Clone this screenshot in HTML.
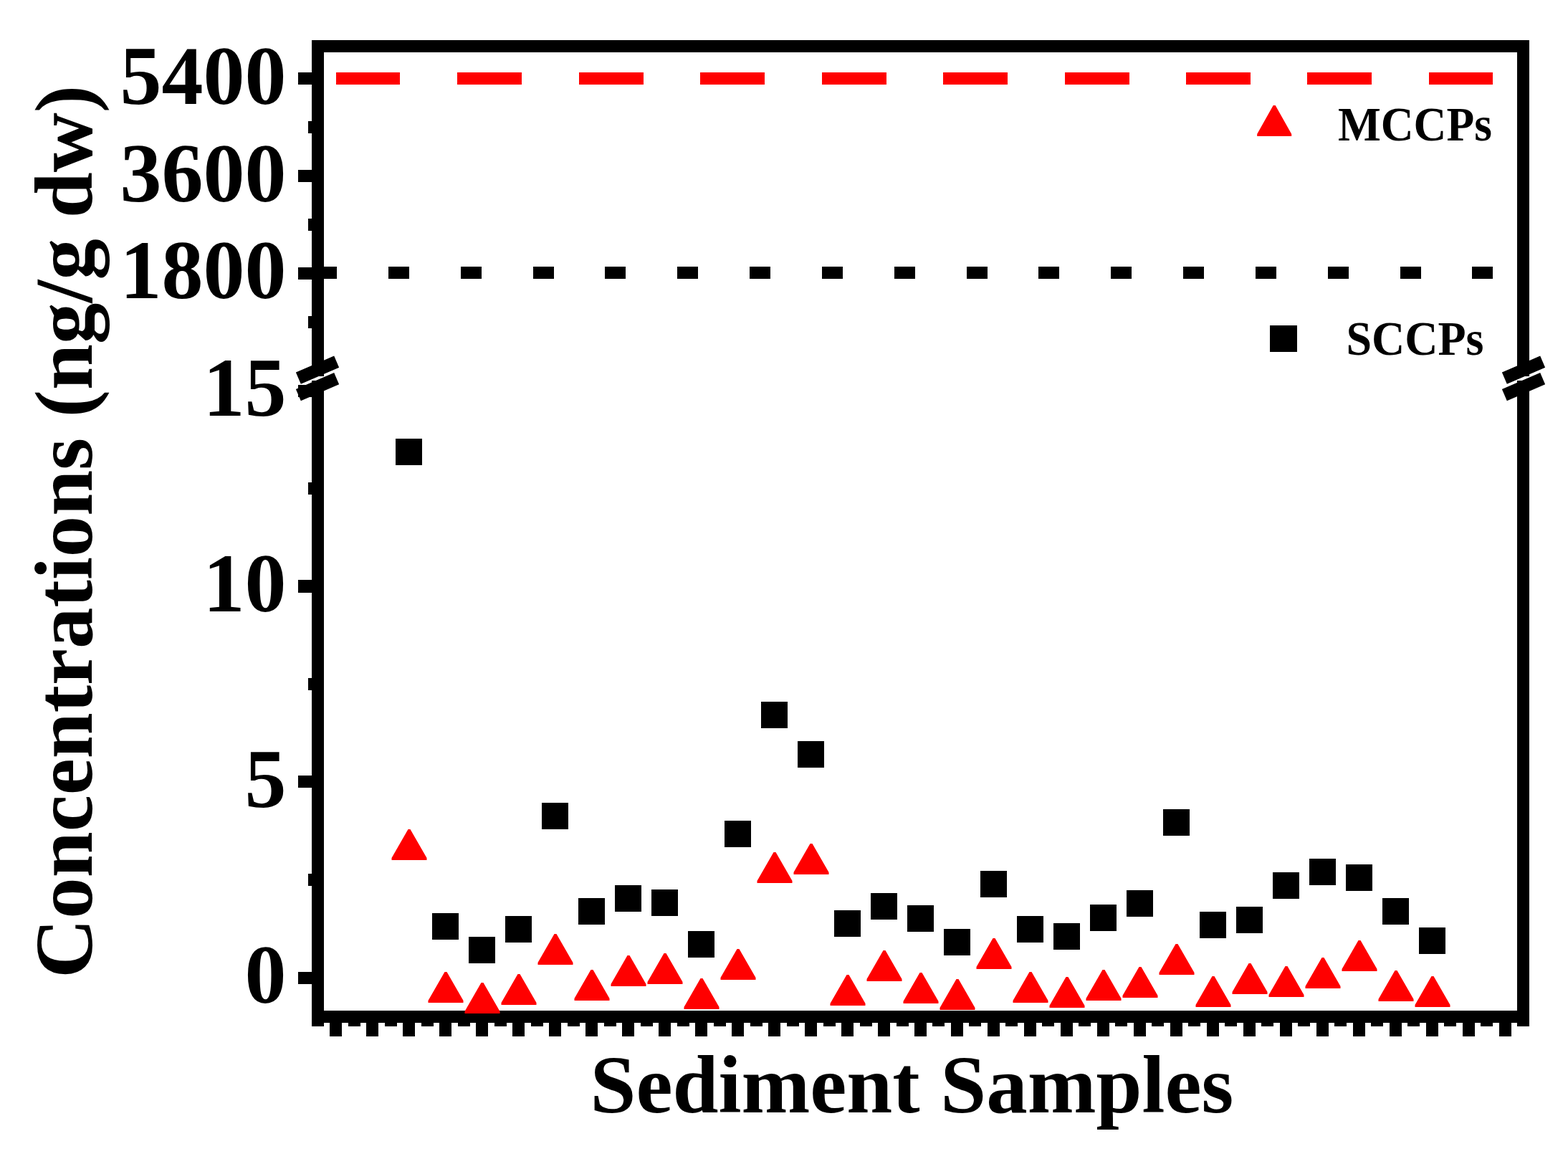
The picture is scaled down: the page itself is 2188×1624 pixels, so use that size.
<!DOCTYPE html>
<html lang="en"><head><meta charset="utf-8"><title>Sediment Samples: SCCPs and MCCPs concentrations</title>
<style>
html,body{margin:0;padding:0;background:#fff;}
body{width:2188px;height:1624px;overflow:hidden;}
svg{display:block;}
text{font-family:"Liberation Serif",serif;font-weight:bold;fill:#000;}
.tk{font-size:116px;text-anchor:end;}
.ti{font-size:115px;}
.lg{font-size:63.4px;}
</style></head><body>
<svg width="2188" height="1624" viewBox="0 0 2188 1624">
<rect x="0" y="0" width="2188" height="1624" fill="#fff"/>
<g fill="#000" shape-rendering="crispEdges">
<rect x="435" y="56" width="1699" height="17"/>
<rect x="435" y="1410" width="1699" height="17"/>
<rect x="435" y="56" width="17" height="469"/>
<rect x="435" y="531" width="17" height="901"/>
<rect x="2117" y="56" width="17" height="469"/>
<rect x="2117" y="531" width="17" height="901"/>
<rect x="416" y="101" width="20" height="17"/>
<rect x="416" y="237" width="20" height="17"/>
<rect x="416" y="373" width="20" height="17"/>
<rect x="416" y="537" width="20" height="17"/>
<rect x="416" y="809" width="20" height="18"/>
<rect x="416" y="1082" width="20" height="17"/>
<rect x="416" y="1356" width="20" height="17"/>
<rect x="430" y="169" width="6" height="17"/>
<rect x="430" y="305" width="6" height="17"/>
<rect x="430" y="441" width="6" height="17"/>
<rect x="430" y="673" width="6" height="17"/>
<rect x="430" y="946" width="6" height="17"/>
<rect x="430" y="1219" width="6" height="17"/>
<rect x="460" y="1426" width="17" height="20"/>
<rect x="511" y="1426" width="17" height="20"/>
<rect x="562" y="1426" width="17" height="20"/>
<rect x="613" y="1426" width="17" height="20"/>
<rect x="664" y="1426" width="17" height="20"/>
<rect x="715" y="1426" width="17" height="20"/>
<rect x="766" y="1426" width="17" height="20"/>
<rect x="817" y="1426" width="17" height="20"/>
<rect x="868" y="1426" width="17" height="20"/>
<rect x="919" y="1426" width="17" height="20"/>
<rect x="970" y="1426" width="17" height="20"/>
<rect x="1021" y="1426" width="17" height="20"/>
<rect x="1072" y="1426" width="17" height="20"/>
<rect x="1123" y="1426" width="17" height="20"/>
<rect x="1174" y="1426" width="17" height="20"/>
<rect x="1225" y="1426" width="17" height="20"/>
<rect x="1276" y="1426" width="17" height="20"/>
<rect x="1327" y="1426" width="17" height="20"/>
<rect x="1378" y="1426" width="17" height="20"/>
<rect x="1429" y="1426" width="17" height="20"/>
<rect x="1480" y="1426" width="17" height="20"/>
<rect x="1531" y="1426" width="17" height="20"/>
<rect x="1582" y="1426" width="17" height="20"/>
<rect x="1633" y="1426" width="17" height="20"/>
<rect x="1684" y="1426" width="17" height="20"/>
<rect x="1735" y="1426" width="17" height="20"/>
<rect x="1786" y="1426" width="17" height="20"/>
<rect x="1837" y="1426" width="17" height="20"/>
<rect x="1888" y="1426" width="17" height="20"/>
<rect x="1939" y="1426" width="17" height="20"/>
<rect x="1990" y="1426" width="17" height="20"/>
<rect x="2041" y="1426" width="17" height="20"/>
<rect x="2092" y="1426" width="17" height="20"/>
<rect x="486" y="1426" width="17" height="6"/>
<rect x="537" y="1426" width="17" height="6"/>
<rect x="588" y="1426" width="17" height="6"/>
<rect x="639" y="1426" width="17" height="6"/>
<rect x="690" y="1426" width="17" height="6"/>
<rect x="741" y="1426" width="17" height="6"/>
<rect x="792" y="1426" width="17" height="6"/>
<rect x="843" y="1426" width="17" height="6"/>
<rect x="894" y="1426" width="17" height="6"/>
<rect x="945" y="1426" width="17" height="6"/>
<rect x="996" y="1426" width="17" height="6"/>
<rect x="1047" y="1426" width="17" height="6"/>
<rect x="1098" y="1426" width="17" height="6"/>
<rect x="1149" y="1426" width="17" height="6"/>
<rect x="1200" y="1426" width="17" height="6"/>
<rect x="1251" y="1426" width="17" height="6"/>
<rect x="1301" y="1426" width="17" height="6"/>
<rect x="1352" y="1426" width="17" height="6"/>
<rect x="1403" y="1426" width="17" height="6"/>
<rect x="1454" y="1426" width="17" height="6"/>
<rect x="1505" y="1426" width="17" height="6"/>
<rect x="1556" y="1426" width="17" height="6"/>
<rect x="1607" y="1426" width="17" height="6"/>
<rect x="1658" y="1426" width="17" height="6"/>
<rect x="1709" y="1426" width="17" height="6"/>
<rect x="1760" y="1426" width="17" height="6"/>
<rect x="1811" y="1426" width="17" height="6"/>
<rect x="1862" y="1426" width="17" height="6"/>
<rect x="1913" y="1426" width="17" height="6"/>
<rect x="1964" y="1426" width="17" height="6"/>
<rect x="2015" y="1426" width="17" height="6"/>
<rect x="2066" y="1426" width="17" height="6"/>
<rect x="441" y="372" width="29" height="17"/>
<rect x="542" y="372" width="29" height="17"/>
<rect x="643" y="372" width="29" height="17"/>
<rect x="744" y="372" width="29" height="17"/>
<rect x="844" y="372" width="29" height="17"/>
<rect x="945" y="372" width="29" height="17"/>
<rect x="1046" y="372" width="29" height="17"/>
<rect x="1147" y="372" width="29" height="17"/>
<rect x="1248" y="372" width="29" height="17"/>
<rect x="1349" y="372" width="29" height="17"/>
<rect x="1449" y="372" width="29" height="17"/>
<rect x="1550" y="372" width="29" height="17"/>
<rect x="1651" y="372" width="29" height="17"/>
<rect x="1752" y="372" width="29" height="17"/>
<rect x="1853" y="372" width="29" height="17"/>
<rect x="1954" y="372" width="29" height="17"/>
<rect x="2054" y="372" width="29" height="17"/>
</g>
<g fill="#f00" shape-rendering="crispEdges">
<rect x="469" y="101" width="89" height="17"/>
<rect x="638" y="101" width="90" height="17"/>
<rect x="808" y="101" width="90" height="17"/>
<rect x="977" y="101" width="90" height="17"/>
<rect x="1147" y="101" width="90" height="17"/>
<rect x="1316" y="101" width="90" height="17"/>
<rect x="1486" y="101" width="90" height="17"/>
<rect x="1655" y="101" width="90" height="17"/>
<rect x="1824" y="101" width="90" height="17"/>
<rect x="1994" y="101" width="89" height="17"/>
</g>
<g fill="#000">
<polygon points="412.86,519.55 466.18,496.58 473.14,512.75 419.82,535.72"/>
<polygon points="412.86,543.00 466.18,520.03 473.14,536.20 419.82,559.17"/>
<polygon points="2095.86,519.55 2149.18,496.58 2156.14,512.75 2102.82,535.72"/>
<polygon points="2095.86,543.00 2149.18,520.03 2156.14,536.20 2102.82,559.17"/>
</g>
<g fill="#000" shape-rendering="crispEdges">
<rect x="552" y="612" width="37" height="37" rx="1"/>
<rect x="603" y="1274" width="37" height="37" rx="1"/>
<rect x="654" y="1307" width="37" height="37" rx="1"/>
<rect x="705" y="1278" width="37" height="37" rx="1"/>
<rect x="756" y="1120" width="37" height="37" rx="1"/>
<rect x="807" y="1253" width="37" height="37" rx="1"/>
<rect x="858" y="1235" width="37" height="37" rx="1"/>
<rect x="909" y="1241" width="37" height="37" rx="1"/>
<rect x="960" y="1299" width="37" height="37" rx="1"/>
<rect x="1011" y="1145" width="37" height="37" rx="1"/>
<rect x="1062" y="979" width="37" height="37" rx="1"/>
<rect x="1113" y="1034" width="37" height="37" rx="1"/>
<rect x="1164" y="1270" width="37" height="37" rx="1"/>
<rect x="1215" y="1246" width="37" height="37" rx="1"/>
<rect x="1266" y="1263" width="37" height="37" rx="1"/>
<rect x="1317" y="1296" width="37" height="37" rx="1"/>
<rect x="1368" y="1215" width="37" height="37" rx="1"/>
<rect x="1419" y="1278" width="37" height="37" rx="1"/>
<rect x="1470" y="1288" width="37" height="37" rx="1"/>
<rect x="1521" y="1262" width="37" height="37" rx="1"/>
<rect x="1572" y="1242" width="37" height="37" rx="1"/>
<rect x="1623" y="1129" width="37" height="37" rx="1"/>
<rect x="1674" y="1272" width="37" height="37" rx="1"/>
<rect x="1725" y="1265" width="37" height="37" rx="1"/>
<rect x="1776" y="1217" width="37" height="37" rx="1"/>
<rect x="1827" y="1198" width="37" height="37" rx="1"/>
<rect x="1878" y="1206" width="37" height="37" rx="1"/>
<rect x="1929" y="1253" width="37" height="37" rx="1"/>
<rect x="1980" y="1294" width="37" height="37" rx="1"/>
<rect x="1772" y="454" width="38" height="37" rx="1"/>
</g>
<g fill="#f00">
<polygon points="546.5,1200 546.5,1197 569.5,1157 572.5,1157 595.5,1197 595.5,1200"/>
<polygon points="597.5,1399 597.5,1396 620.5,1356 623.5,1356 646.5,1396 646.5,1399"/>
<polygon points="648.5,1414 648.5,1411 671.5,1371 674.5,1371 697.5,1411 697.5,1414"/>
<polygon points="699.5,1402 699.5,1399 722.5,1359 725.5,1359 748.5,1399 748.5,1402"/>
<polygon points="750.5,1346 750.5,1343 773.5,1303 776.5,1303 799.5,1343 799.5,1346"/>
<polygon points="801.5,1396 801.5,1393 824.5,1353 827.5,1353 850.5,1393 850.5,1396"/>
<polygon points="852.5,1376 852.5,1373 875.5,1333 878.5,1333 901.5,1373 901.5,1376"/>
<polygon points="903.5,1373 903.5,1370 926.5,1330 929.5,1330 952.5,1370 952.5,1373"/>
<polygon points="954.5,1408 954.5,1405 977.5,1365 980.5,1365 1003.5,1405 1003.5,1408"/>
<polygon points="1005.5,1367 1005.5,1364 1028.5,1324 1031.5,1324 1054.5,1364 1054.5,1367"/>
<polygon points="1056.5,1232 1056.5,1229 1079.5,1189 1082.5,1189 1105.5,1229 1105.5,1232"/>
<polygon points="1107.5,1220 1107.5,1217 1130.5,1177 1133.5,1177 1156.5,1217 1156.5,1220"/>
<polygon points="1158.5,1403 1158.5,1400 1181.5,1360 1184.5,1360 1207.5,1400 1207.5,1403"/>
<polygon points="1209.5,1369 1209.5,1366 1232.5,1326 1235.5,1326 1258.5,1366 1258.5,1369"/>
<polygon points="1260.5,1400 1260.5,1397 1283.5,1357 1286.5,1357 1309.5,1397 1309.5,1400"/>
<polygon points="1311.5,1409 1311.5,1406 1334.5,1366 1337.5,1366 1360.5,1406 1360.5,1409"/>
<polygon points="1362.5,1352 1362.5,1349 1385.5,1309 1388.5,1309 1411.5,1349 1411.5,1352"/>
<polygon points="1413.5,1399 1413.5,1396 1436.5,1356 1439.5,1356 1462.5,1396 1462.5,1399"/>
<polygon points="1464.5,1406 1464.5,1403 1487.5,1363 1490.5,1363 1513.5,1403 1513.5,1406"/>
<polygon points="1515.5,1396 1515.5,1393 1538.5,1353 1541.5,1353 1564.5,1393 1564.5,1396"/>
<polygon points="1566.5,1392 1566.5,1389 1589.5,1349 1592.5,1349 1615.5,1389 1615.5,1392"/>
<polygon points="1617.5,1360 1617.5,1357 1640.5,1317 1643.5,1317 1666.5,1357 1666.5,1360"/>
<polygon points="1668.5,1405 1668.5,1402 1691.5,1362 1694.5,1362 1717.5,1402 1717.5,1405"/>
<polygon points="1719.5,1387 1719.5,1384 1742.5,1344 1745.5,1344 1768.5,1384 1768.5,1387"/>
<polygon points="1770.5,1391 1770.5,1388 1793.5,1348 1796.5,1348 1819.5,1388 1819.5,1391"/>
<polygon points="1821.5,1379 1821.5,1376 1844.5,1336 1847.5,1336 1870.5,1376 1870.5,1379"/>
<polygon points="1872.5,1355 1872.5,1352 1895.5,1312 1898.5,1312 1921.5,1352 1921.5,1355"/>
<polygon points="1923.5,1397 1923.5,1394 1946.5,1354 1949.5,1354 1972.5,1394 1972.5,1397"/>
<polygon points="1974.5,1405 1974.5,1402 1997.5,1362 2000.5,1362 2023.5,1402 2023.5,1405"/>
<polygon points="1754.2,190 1754.2,187 1776.7,147 1779.7,147 1802.2,187 1802.2,190"/>
</g>
<text class="tk" x="399.4" y="145">5400</text>
<text class="tk" x="399.4" y="281">3600</text>
<text class="tk" x="399.4" y="416">1800</text>
<text class="tk" x="399.4" y="580">15</text>
<text class="tk" x="399.4" y="853">10</text>
<text class="tk" x="399.4" y="1126">5</text>
<text class="tk" x="399.4" y="1399">0</text>
<text class="ti" x="823.6" y="1551.5">Sediment Samples</text>
<text class="ti" transform="translate(128.3 1364.8) rotate(-90)">Concentrations (ng/g dw)</text>
<text class="lg" transform="translate(1867 196) scale(1 1.05)">MCCPs</text>
<text class="lg" transform="translate(1878.4 495) scale(1.01 1.07)">SCCPs</text>
</svg>
</body></html>
